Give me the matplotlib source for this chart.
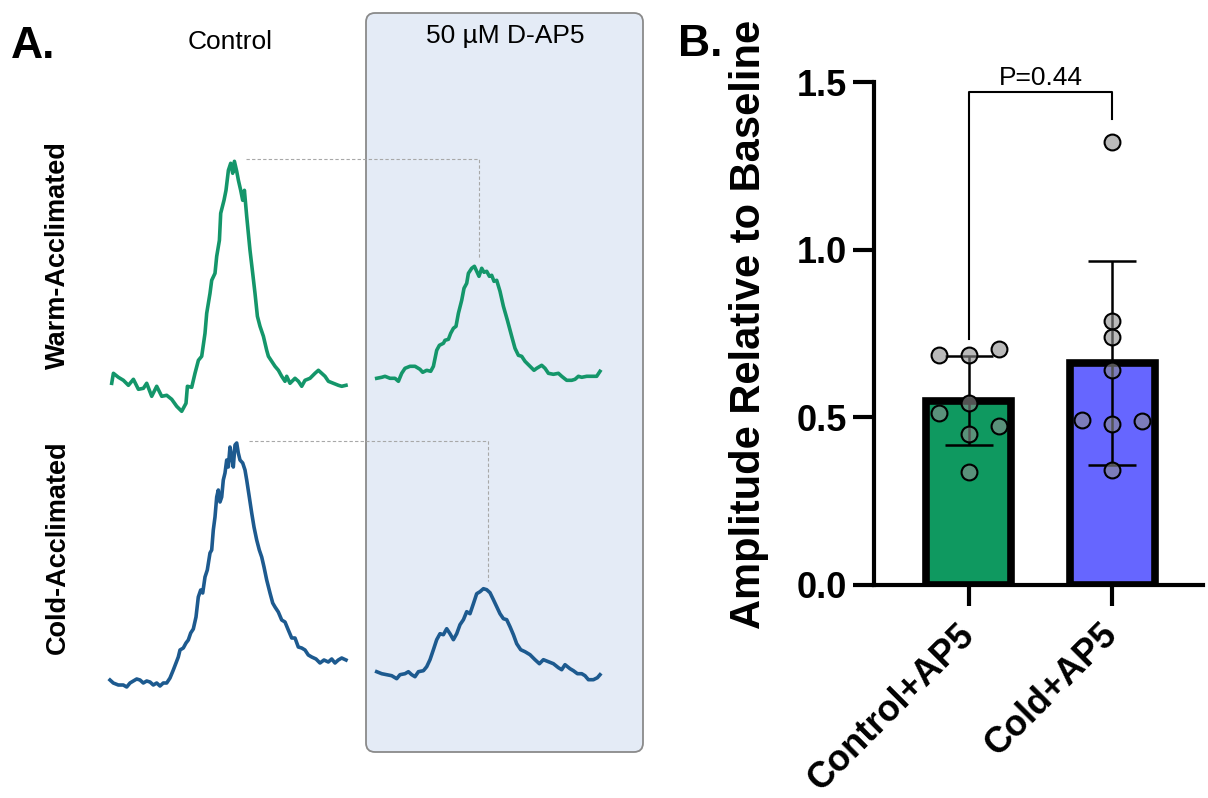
import numpy as np
import matplotlib.pyplot as plt
from matplotlib.patches import FancyBboxPatch
from matplotlib.transforms import ScaledTranslation

plt.rcParams['font.family'] = ['Liberation Sans', 'DejaVu Sans']

# ---- Panel A: field potential traces (time in ms, amplitude in mV, relative to trace start) ----
warm_ctrl_t = [0.00, 0.17, 0.67, 1.17, 1.67, 2.17, 2.67, 3.17, 3.50, 4.00, 4.50, 5.00, 5.50, 6.00,
               6.50, 7.00, 7.43, 7.57, 8.00, 8.33, 8.67, 9.00, 9.33, 9.50, 9.83, 10.00, 10.33, 10.50,
               10.77, 10.90, 11.23, 11.43, 11.67, 11.90, 12.10, 12.27, 12.50, 12.67, 12.90, 13.10,
               13.27, 13.50, 13.83, 14.10, 14.33, 14.57, 14.83, 15.17, 15.50, 15.67, 16.00, 16.33,
               16.67, 17.00, 17.33, 17.50, 17.83, 18.33, 18.67, 19.00, 19.33, 19.83, 20.33, 20.67,
               21.00, 21.33, 21.67, 22.17, 22.67, 23.00, 23.43]
warm_ctrl_v = [0.00, 0.10, 0.06, 0.03, -0.02, 0.04, -0.06, -0.05, 0.00, -0.13, -0.03, -0.13, -0.12,
               -0.16, -0.23, -0.28, -0.20, -0.03, -0.04, 0.10, 0.23, 0.27, 0.50, 0.70, 0.90, 1.03,
               1.10, 1.27, 1.43, 1.70, 1.83, 1.93, 2.13, 2.20, 2.10, 2.22, 2.12, 2.03, 1.93, 1.83,
               1.93, 1.67, 1.33, 1.10, 0.90, 0.67, 0.57, 0.47, 0.33, 0.27, 0.22, 0.17, 0.13, 0.07,
               0.02, 0.07, 0.00, 0.05, 0.02, -0.03, 0.03, 0.05, 0.10, 0.13, 0.10, 0.07, 0.02, 0.00,
               -0.02, -0.03, -0.02]

warm_ap5_t = [0.00, 0.50, 0.83, 1.33, 1.83, 2.17, 2.50, 2.83, 3.33, 3.83, 4.33, 4.60, 5.00, 5.40,
              5.67, 6.00, 6.27, 6.67, 6.83, 7.17, 7.40, 7.67, 7.93, 8.17, 8.50, 8.73, 9.00, 9.17,
              9.50, 9.77, 10.00, 10.23, 10.50, 10.73, 11.00, 11.27, 11.50, 11.73, 12.00, 12.33,
              12.67, 13.07, 13.50, 13.83, 14.17, 14.50, 14.83, 15.33, 15.73, 16.00, 16.50, 16.83,
              17.17, 17.67, 18.17, 18.50, 19.00, 19.50, 19.83, 20.17, 20.50, 21.00, 21.50, 22.00,
              22.33]
warm_ap5_v = [0.00, 0.01, 0.02, 0.00, 0.00, -0.03, 0.05, 0.10, 0.12, 0.12, 0.09, 0.06, 0.08, 0.07,
              0.12, 0.28, 0.33, 0.35, 0.38, 0.39, 0.45, 0.50, 0.52, 0.65, 0.78, 0.90, 0.95, 1.05,
              1.10, 1.12, 1.07, 1.02, 1.10, 1.06, 1.07, 1.02, 1.03, 0.97, 0.98, 0.87, 0.72, 0.58,
              0.42, 0.30, 0.23, 0.22, 0.17, 0.12, 0.08, 0.10, 0.13, 0.10, 0.05, 0.04, 0.05, 0.02,
              -0.02, -0.02, -0.01, 0.02, 0.01, 0.02, 0.02, 0.02, 0.07]

cold_ctrl_t = [0.00, 0.33, 0.83, 1.33, 1.67, 2.00, 2.33, 2.67, 3.00, 3.33, 3.67, 4.00, 4.33, 4.67,
               5.00, 5.33, 5.67, 6.00, 6.33, 6.60, 6.83, 7.00, 7.33, 7.60, 7.83, 8.07, 8.33, 8.60,
               8.83, 9.07, 9.27, 9.50, 9.73, 10.00, 10.17, 10.33, 10.50, 10.67, 10.83, 11.00, 11.17,
               11.33, 11.50, 11.67, 11.83, 12.00, 12.17, 12.33, 12.50, 12.67, 12.83, 13.00, 13.27,
               13.50, 13.67, 13.93, 14.17, 14.40, 14.67, 14.93, 15.17, 15.40, 15.67, 16.00, 16.27,
               16.50, 16.83, 17.17, 17.50, 17.83, 18.17, 18.50, 18.83, 19.17, 19.50, 19.83, 20.17,
               20.60, 21.00, 21.40, 21.83, 22.17, 22.50, 22.83, 23.17, 23.60]
cold_ctrl_v = [0.00, -0.03, -0.05, -0.05, -0.07, -0.03, -0.01, 0.01, 0.00, -0.03, -0.01, -0.02,
               -0.05, -0.03, -0.06, -0.03, -0.03, 0.02, 0.10, 0.17, 0.23, 0.30, 0.32, 0.37, 0.40,
               0.47, 0.51, 0.63, 0.83, 0.90, 0.87, 1.03, 1.10, 1.27, 1.30, 1.50, 1.63, 1.83, 1.90,
               1.78, 1.83, 2.00, 2.07, 2.20, 2.13, 2.33, 2.23, 2.13, 2.35, 2.37, 2.27, 2.20, 2.17,
               2.10, 2.00, 1.83, 1.67, 1.53, 1.40, 1.30, 1.23, 1.13, 1.00, 0.87, 0.77, 0.73, 0.68,
               0.60, 0.58, 0.50, 0.42, 0.42, 0.33, 0.32, 0.30, 0.25, 0.23, 0.21, 0.17, 0.20, 0.18,
               0.21, 0.17, 0.20, 0.22, 0.20]

cold_ap5_t = [0.00, 0.50, 1.00, 1.50, 2.00, 2.33, 2.83, 3.17, 3.50, 3.83, 4.17, 4.67, 5.00, 5.33,
              5.67, 6.00, 6.33, 6.67, 7.00, 7.33, 7.67, 8.00, 8.33, 8.67, 9.00, 9.33, 9.67, 10.00,
              10.33, 10.67, 11.00, 11.33, 11.67, 12.00, 12.33, 12.67, 13.00, 13.33, 13.67, 14.00,
              14.40, 14.83, 15.33, 15.83, 16.27, 16.67, 17.17, 17.67, 18.17, 18.50, 18.83, 19.33,
              19.67, 20.07, 20.50, 20.83, 21.17, 21.67, 22.07, 22.33]
cold_ap5_v = [0.00, -0.02, -0.03, -0.04, -0.07, -0.03, -0.02, 0.00, -0.03, -0.05, 0.00, 0.01, 0.05,
              0.12, 0.22, 0.32, 0.38, 0.37, 0.43, 0.38, 0.32, 0.38, 0.47, 0.52, 0.60, 0.58, 0.68,
              0.78, 0.80, 0.83, 0.82, 0.79, 0.72, 0.65, 0.58, 0.53, 0.52, 0.45, 0.37, 0.28, 0.22,
              0.20, 0.17, 0.12, 0.08, 0.12, 0.10, 0.08, 0.04, 0.02, 0.07, 0.03, 0.01, -0.02, -0.02,
              -0.04, -0.08, -0.08, -0.06, -0.03]

# ---- Panel B: amplitude relative to baseline ----
groups = ['Control+AP5', 'Cold+AP5']
control_pts = [0.687, 0.687, 0.704, 0.542, 0.514, 0.475, 0.451, 0.338]
cold_pts = [1.320, 0.788, 0.739, 0.642, 0.493, 0.480, 0.488, 0.343]
p_label = 'P=0.44'

W, H = 1208, 798
fig = plt.figure(figsize=(W / 100, H / 100), dpi=100)

green = '#14966a'
blue = '#1d5a8f'

# panel A: one blank axes, 10 px per ms and 100 px per mV
axA = fig.add_axes([0, 0, 660 / W, 1])
axA.set_xlim(0, 66)
axA.set_ylim(0, H / 100)
axA.axis('off')

box = FancyBboxPatch((36.6, 0.46), 64.3 - 36.6, 7.85 - 0.46,
                     boxstyle='round,pad=0,rounding_size=0.9', mutation_aspect=0.1,
                     facecolor='#e4ebf6', edgecolor='#8a8a8a', linewidth=1.3, zorder=0)
axA.add_patch(box)

rows = [
    (warm_ctrl_t, warm_ctrl_v, (11.17, 4.147), warm_ap5_t, warm_ap5_v, (37.67, 4.197), green),
    (cold_ctrl_t, cold_ctrl_v, (11.0, 1.18), cold_ap5_t, cold_ap5_v, (37.67, 1.263), blue),
]
for ct, cv, co, at, av, ao, col in rows:
    ct, cv, at, av = map(np.array, (ct, cv, at, av))
    axA.plot(ct + co[0], cv + co[1], color=col, lw=2.6, zorder=3)
    axA.plot(at + ao[0], av + ao[1], color=col, lw=2.6, zorder=3)
    # dashed guide: control peak level carried over to the AP5 peak
    ic, ia = np.argmax(cv), np.argmax(av)
    y_top = co[1] + cv[ic] + 0.02
    x_end = ao[0] + at[ia] + 0.5
    axA.plot([co[0] + ct[ic] + 1.2, x_end, x_end], [y_top, y_top, ao[1] + av[ia] + 0.08],
             color='#a8a8a8', lw=0.8, ls=(0, (3, 2)), zorder=2)


def fx(px):
    return px / W


def fy(py):
    return 1 - py / H


fig.text(fx(33), fy(46), 'A.', fontsize=32, fontweight='bold', ha='center', va='center')
fig.text(fx(230), fy(42), 'Control', fontsize=19, ha='center', va='center')
fig.text(fx(505), fy(36), '50 µM D-AP5', fontsize=19, ha='center', va='center')
fig.text(fx(58), fy(255), 'Warm-Acclimated', fontsize=19.5, fontweight='bold',
         rotation=90, ha='center', va='center')
fig.text(fx(58), fy(547), 'Cold-Acclimated', fontsize=19.5, fontweight='bold',
         rotation=90, ha='center', va='center')

# panel B
fig.text(fx(700), fy(45), 'B.', fontsize=32, fontweight='bold', ha='center', va='center')
axB = fig.add_axes([fx(874), fy(585), (1203 - 874) / W, (585 - 82) / H])
x = np.arange(len(groups))
data = [np.array(control_pts), np.array(cold_pts)]
means = [d.mean() for d in data]
sds = [d.std(ddof=1) for d in data]
offsets = [[-0.21, 0, 0.21, 0, -0.21, 0.21, 0, 0],
           [0, 0, 0, 0, -0.21, 0, 0.21, 0]]

axB.bar(x, means, width=0.594, color=['#0f9960', '#6666ff'], edgecolor='black',
        linewidth=5.5, zorder=1)
axB.errorbar(x, means, yerr=sds, fmt='none', ecolor='black', elinewidth=1.8,
             capsize=17, capthick=1.8, zorder=2)
for i, d in enumerate(data):
    axB.scatter(x[i] + np.array(offsets[i]), d, s=130, facecolor=(0.55, 0.55, 0.55, 0.6),
                edgecolor='black', linewidth=1.5, zorder=3, clip_on=False)

# significance bracket
y_br = 1.47
axB.plot([0, 0, 1, 1], [means[0] + sds[0] + 0.05, y_br, y_br, max(cold_pts) + 0.07],
         color='black', lw=1.5, clip_on=False)
axB.text(0.5, 1.49, p_label, fontsize=19, ha='center', va='baseline')

axB.set_xlim(-0.664, 1.636)
axB.set_ylim(0, 1.5)
axB.set_yticks([0, 0.5, 1.0, 1.5])
axB.set_yticklabels(['0.0', '0.5', '1.0', '1.5'], fontsize=26, fontweight='bold')
axB.set_xticks(x)
axB.set_xticklabels(groups, fontsize=26, fontweight='bold', rotation=45,
                    ha='right', va='center', rotation_mode='anchor')
shift = ScaledTranslation(0.07, 0, fig.dpi_scale_trans)
for lab in axB.get_xticklabels():
    lab.set_transform(lab.get_transform() + shift)
axB.tick_params(axis='y', length=15, width=3, pad=4.3)
axB.tick_params(axis='x', length=15, width=3, pad=17)
for s in ['top', 'right']:
    axB.spines[s].set_visible(False)
for s in ['left', 'bottom']:
    axB.spines[s].set_linewidth(3)

fig.text(fx(749), fy(324), 'Amplitude Relative to Baseline', fontsize=30, fontweight='bold',
         rotation=90, ha='center', va='center')

fig.savefig('out.png', dpi=100)
